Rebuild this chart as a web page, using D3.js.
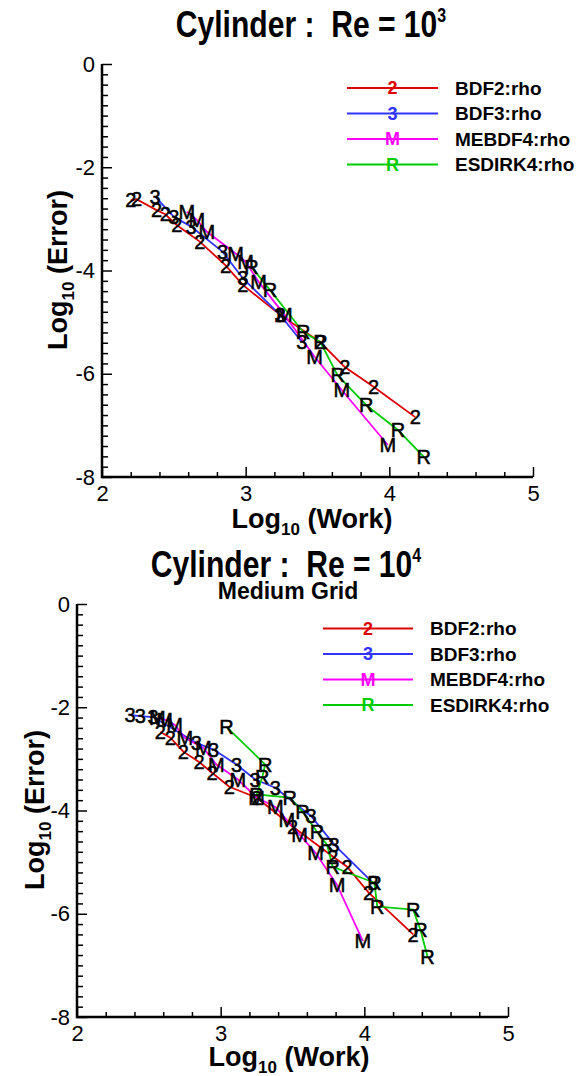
<!DOCTYPE html>
<html>
<head>
<meta charset="utf-8">
<script src="https://cdn.jsdelivr.net/npm/d3@7"></script>
<style>
  body { margin: 0; background: #fff; }
  text { font-family: "Liberation Sans", Arial, Helvetica, sans-serif; }
</style>
</head>
<body>
<svg id="chart" width="585" height="1076"></svg>
<script>
// ---- data ----
const seriesNames = ["BDF2:rho", "BDF3:rho", "MEBDF4:rho", "ESDIRK4:rho"];
const seriesSymbols = ["2", "3", "M", "R"];
const xTicks = [2, 3, 4, 5];
const yTicks = [0, -2, -4, -6, -8];

// Re = 10^3  [log10 work, log10 error]
const re3Bdf2 = [[2.20, -2.64], [2.24, -2.62], [2.38, -2.83], [2.44, -2.91], [2.52, -3.12], [2.68, -3.44],
  [2.86, -3.90], [2.98, -4.28], [3.24, -4.86], [3.52, -5.39], [3.69, -5.87], [3.89, -6.25], [4.18, -6.84]];
const re3Bdf3 = [[2.37, -2.57], [2.50, -2.96], [2.62, -3.15], [2.84, -3.64], [2.98, -4.15], [3.24, -4.86], [3.39, -5.38]];
const re3Mebdf4 = [[2.59, -2.86], [2.66, -3.02], [2.73, -3.25], [2.93, -3.67], [3.00, -3.83], [3.09, -4.22],
  [3.27, -4.86], [3.48, -5.67], [3.67, -6.32], [3.99, -7.38]];
const re3Esdirk4 = [[3.04, -3.93], [3.17, -4.38], [3.40, -5.19], [3.52, -5.39], [3.64, -6.03], [3.84, -6.61],
  [4.06, -7.09], [4.24, -7.61]];

// Re = 10^4, medium grid
const re4Bdf2 = [[2.58, -2.48], [2.65, -2.59], [2.74, -2.86], [2.85, -3.06], [2.94, -3.27], [3.06, -3.54],
  [3.25, -3.75], [3.50, -4.31], [3.78, -4.89], [3.88, -5.09], [4.03, -5.59], [4.34, -6.40]];
const re4Bdf3 = [[2.37, -2.15], [2.44, -2.17], [2.53, -2.19], [2.83, -2.69], [2.95, -2.82], [3.11, -3.11],
  [3.24, -3.40], [3.38, -3.56], [3.63, -4.11], [3.79, -4.66], [4.06, -5.40]];
const re4Mebdf4 = [[2.56, -2.21], [2.61, -2.24], [2.68, -2.34], [2.75, -2.59], [2.88, -2.79], [2.97, -3.11],
  [3.12, -3.40], [3.25, -3.75], [3.38, -3.93], [3.46, -4.18], [3.55, -4.47], [3.66, -4.82], [3.81, -5.44], [3.99, -6.53]];
const re4Esdirk4 = [[3.04, -2.38], [3.31, -3.11], [3.29, -3.35], [3.25, -3.69], [3.48, -3.75], [3.57, -4.02],
  [3.67, -4.41], [3.74, -4.66], [3.78, -5.09], [4.07, -5.40], [4.09, -5.86], [4.34, -5.92], [4.39, -6.31], [4.44, -6.83]];

// ---- styles ----
const colors = ["#dd0000", "#3333ff", "#ff00ff", "#00cc00"];
const font = '"Liberation Sans", Arial, Helvetica, sans-serif';

const svg = d3.select("#chart");

const panels = [
  {
    data: [re3Bdf2, re3Bdf3, re3Mebdf4, re3Esdirk4],
    x0: 102, x1: 533, yTop: 64, yBot: 477,
    title: { x: 311, y: 37, text: "Cylinder :  Re = 10", sup: "3" },
    sub: null,
    xTitle: { x: 312, y: 528 },
    yTitle: { x: 58, y: 270 },
    legend: { x0: 347, x1: 438, tx: 455, y0: 88, dy: 25.5 }
  },
  {
    data: [re4Bdf2, re4Bdf3, re4Mebdf4, re4Esdirk4],
    x0: 77, x1: 508, yTop: 604, yBot: 1017,
    title: { x: 286, y: 577, text: "Cylinder :  Re = 10", sup: "4" },
    sub: { x: 288, y: 599, text: "Medium Grid" },
    xTitle: { x: 289, y: 1066 },
    yTitle: { x: 35, y: 810 },
    legend: { x0: 323, x1: 413, tx: 430, y0: 628.5, dy: 25.5 }
  }
];

function drawPanel(p) {
  const g = svg.append("g");
  const x = d3.scaleLinear().domain([2, 5]).range([p.x0, p.x1]);
  const y = d3.scaleLinear().domain([-8, 0]).range([p.yBot, p.yTop]);

  // minor ticks every 0.2
  const xMinor = d3.range(2, 5.001, 0.2).filter(v => Math.abs(v - Math.round(v)) > 1e-6);
  const yMinor = d3.range(-8, 0.001, 0.2).filter(v => Math.abs(v / 2 - Math.round(v / 2)) > 1e-6);

  const xMinorAxis = g.append("g").attr("transform", `translate(0,${p.yBot})`)
    .call(d3.axisBottom(x).tickValues(xMinor).tickSizeInner(-5).tickSizeOuter(0).tickFormat(""));
  const yMinorAxis = g.append("g").attr("transform", `translate(${p.x0},0)`)
    .call(d3.axisLeft(y).tickValues(yMinor).tickSizeInner(-6).tickSizeOuter(0).tickFormat(""));

  const xAxis = g.append("g").attr("transform", `translate(0,${p.yBot})`)
    .call(d3.axisBottom(x).tickValues(xTicks).tickSizeInner(-10).tickSizeOuter(0).tickPadding(8)
      .tickFormat(d => String(d)));
  const yAxis = g.append("g").attr("transform", `translate(${p.x0},0)`)
    .call(d3.axisLeft(y).tickValues(yTicks).tickSizeInner(-10).tickSizeOuter(0).tickPadding(7)
      .tickFormat(d => String(d)));

  [xMinorAxis, yMinorAxis, xAxis, yAxis].forEach(a => {
    a.select(".domain").remove();
    a.selectAll(".tick line").attr("stroke", "#000").attr("stroke-width", 1.5);
    a.selectAll("text").attr("font-family", font).attr("font-size", 22).attr("fill", "#000");
  });
  xAxis.selectAll("text").attr("dy", "0.72em");

  // axis lines (left + bottom)
  g.append("path")
    .attr("d", `M${p.x0},${p.yTop}V${p.yBot}H${p.x1}`)
    .attr("fill", "none").attr("stroke", "#000").attr("stroke-width", 2.5);

  // series lines
  const line = d3.line().x(d => x(d[0])).y(d => y(d[1]));
  p.data.forEach((s, i) => {
    g.append("path").datum(s)
      .attr("d", line)
      .attr("fill", "none")
      .attr("stroke", colors[i])
      .attr("stroke-width", 1.8);
  });
  // symbols
  p.data.forEach((s, i) => {
    g.selectAll(null).data(s).join("text")
      .attr("x", d => x(d[0]))
      .attr("y", d => y(d[1]))
      .attr("dy", "0.36em")
      .attr("text-anchor", "middle")
      .attr("font-family", font)
      .attr("font-size", 20)
      .attr("fill", "#000")
      .attr("stroke", "#000").attr("stroke-width", 0.5)
      .text(seriesSymbols[i]);
  });

  // legend
  const lg = g.append("g");
  seriesNames.forEach((name, i) => {
    const ly = p.legend.y0 + i * p.legend.dy;
    lg.append("line")
      .attr("x1", p.legend.x0).attr("x2", p.legend.x1)
      .attr("y1", ly).attr("y2", ly)
      .attr("stroke", colors[i]).attr("stroke-width", 1.8);
    lg.append("text")
      .attr("x", (p.legend.x0 + p.legend.x1) / 2).attr("y", ly).attr("dy", "0.36em")
      .attr("text-anchor", "middle").attr("font-family", font)
      .attr("font-size", 18).attr("font-weight", "bold")
      .attr("fill", colors[i]).text(seriesSymbols[i]);
    lg.append("text")
      .attr("x", p.legend.tx).attr("y", ly).attr("dy", "0.36em")
      .attr("font-family", font).attr("font-size", 19).attr("font-weight", "bold")
      .attr("fill", "#000").text(name);
  });

  // title
  const t = g.append("text")
    .attr("transform", `translate(${p.title.x},${p.title.y}) scale(0.94,1.15)`)
    .attr("text-anchor", "middle")
    .attr("font-family", font).attr("font-size", 32).attr("font-weight", "bold")
    .style("white-space", "pre");
  t.append("tspan").text(p.title.text);
  t.append("tspan").attr("dy", -13).attr("font-size", 17).text(p.title.sup);

  if (p.sub) {
    g.append("text")
      .attr("x", p.sub.x).attr("y", p.sub.y)
      .attr("text-anchor", "middle")
      .attr("font-family", font).attr("font-size", 23).attr("font-weight", "bold")
      .text(p.sub.text);
  }

  // axis titles
  const xt = g.append("text")
    .attr("x", p.xTitle.x).attr("y", p.xTitle.y)
    .attr("text-anchor", "middle")
    .attr("font-family", font).attr("font-size", 27).attr("font-weight", "bold")
    .style("white-space", "pre");
  xt.append("tspan").text("Log");
  xt.append("tspan").attr("dy", 7).attr("font-size", 17).text("10");
  xt.append("tspan").attr("dy", -7).text(" (Work)");

  const yt = g.append("text")
    .attr("transform", `translate(${p.yTitle.x},${p.yTitle.y}) rotate(-90)`)
    .attr("text-anchor", "middle")
    .attr("font-family", font).attr("font-size", 27).attr("font-weight", "bold")
    .style("white-space", "pre");
  yt.append("tspan").attr("dy", "0.35em").text("Log");
  yt.append("tspan").attr("dy", 7).attr("font-size", 17).text("10");
  yt.append("tspan").attr("dy", -7).text(" (Error)");
}

panels.forEach(drawPanel);
</script>
</body>
</html>
